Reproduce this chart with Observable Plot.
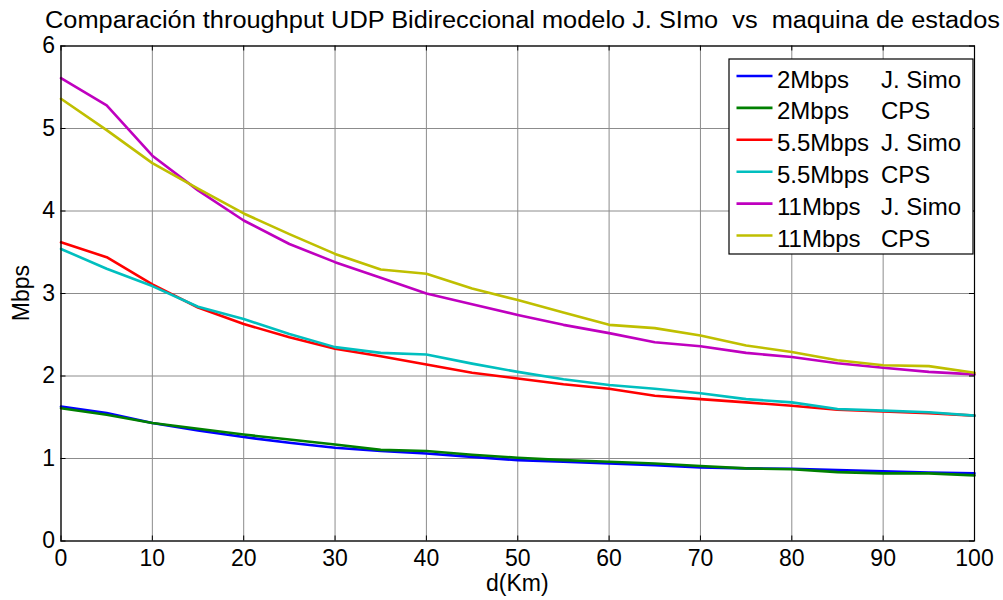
<!DOCTYPE html>
<html><head><meta charset="utf-8">
<script src="https://cdn.jsdelivr.net/npm/d3@7"></script>
<script src="https://cdn.jsdelivr.net/npm/@observablehq/plot@0.6"></script>
<style>body{margin:0;background:#fff}</style>
</head><body><div id="chart"></div>
<script>
const distances = [0,5,10,15,20,25,30,35,40,45,50,55,60,65,70,75,80,85,90,95,100];
const simo2  = [1.63,1.55,1.43,1.34,1.26,1.19,1.13,1.09,1.06,1.02,0.98,0.96,0.94,0.92,0.89,0.88,0.875,0.86,0.845,0.83,0.82];
const cps2   = [1.61,1.53,1.43,1.36,1.29,1.23,1.17,1.105,1.09,1.045,1.01,0.98,0.96,0.94,0.91,0.88,0.87,0.835,0.82,0.82,0.795];
const simo55 = [3.62,3.44,3.11,2.83,2.63,2.47,2.33,2.24,2.14,2.04,1.97,1.90,1.845,1.76,1.72,1.68,1.64,1.59,1.57,1.55,1.52];
const cps55  = [3.54,3.30,3.09,2.84,2.69,2.51,2.35,2.28,2.26,2.15,2.05,1.96,1.89,1.845,1.79,1.72,1.68,1.60,1.58,1.56,1.52];
const simo11 = [5.61,5.28,4.67,4.25,3.885,3.60,3.38,3.19,3.00,2.87,2.74,2.62,2.52,2.41,2.36,2.28,2.23,2.155,2.10,2.05,2.02];
const cps11  = [5.36,4.98,4.58,4.27,3.97,3.72,3.48,3.29,3.24,3.06,2.92,2.77,2.62,2.58,2.49,2.37,2.29,2.19,2.13,2.12,2.04];
const seriesRates = ["2Mbps","2Mbps","5.5Mbps","5.5Mbps","11Mbps","11Mbps"];
const seriesModels = ["J. Simo","CPS","J. Simo","CPS","J. Simo","CPS"];
const seriesColors = ["#0000ff","#008000","#ff0000","#00bfbf","#bf00bf","#bfbf00"];
const seriesValues = [simo2,cps2,simo55,cps55,simo11,cps11];
const xTicks = [0,10,20,30,40,50,60,70,80,90,100];
const yTicks = [0,1,2,3,4,5,6];
const titleText = "Comparación throughput UDP Bidireccional modelo J. SImo  vs  maquina de estados";
const xLabel = "d(Km)";
const yLabel = "Mbps";

const seriesNames = seriesRates.map((r,i)=>r+" "+seriesModels[i]);
const data = [];
seriesValues.forEach((vals,i)=>vals.forEach((v,j)=>data.push({s:seriesNames[i], d:distances[j], v})));

(function(){
const W=1003, H=600, ml=60.5, mr=29, mt=45.5, mb=59.5;
const innerW = W-ml-mr, innerH = H-mt-mb;
const font = "Liberation Sans, Arial, sans-serif";
const chart = Plot.plot({
  width:W, height:H, marginLeft:ml, marginRight:mr, marginTop:mt, marginBottom:mb,
  style:{fontFamily:font, fontSize:"23px", color:"#000", background:"#fff", overflow:"visible"},
  x:{domain:[0,100], label:null},
  y:{domain:[0,6], label:null},
  color:{domain:seriesNames, range:seriesColors},
  marks:[
    Plot.gridX(xTicks,{stroke:"#8c8c8c", strokeOpacity:1, strokeWidth:1}),
    Plot.gridY(yTicks,{stroke:"#8c8c8c", strokeOpacity:1, strokeWidth:1}),
    Plot.line(data,{x:"d", y:"v", z:"s", stroke:"s", strokeWidth:2.6}),
    Plot.frame({stroke:"#000", strokeWidth:1.2}),
    Plot.tickX(xTicks,{x:d=>d, insetTop:innerH-5, stroke:"#000"}),
    Plot.tickX(xTicks,{x:d=>d, insetBottom:innerH-5, stroke:"#000"}),
    Plot.tickY(yTicks,{y:d=>d, insetRight:innerW-5, stroke:"#000"}),
    Plot.tickY(yTicks,{y:d=>d, insetLeft:innerW-5, stroke:"#000"}),
    Plot.axisX(xTicks,{tickSize:0, tickPadding:9, label:null, fontSize:23, tickFormat:d=>String(d)}),
    Plot.axisY(yTicks,{tickSize:0, tickPadding:6, label:null, fontSize:23, tickFormat:d=>String(d)})
  ]
});
document.getElementById("chart").appendChild(chart);

const svg = d3.select(chart);
const sx = chart.scale("x"), sy = chart.scale("y");
const fl = sx.range[0], fr = sx.range[1], ft = sy.range[1], fb = sy.range[0];

svg.append("text").attr("x", 522.5).attr("y", ft-18).attr("text-anchor","middle")
  .attr("textLength",955).attr("lengthAdjust","spacingAndGlyphs")
  .attr("font-family",font).attr("font-size",23).attr("fill","#000").text(titleText);
svg.append("text").attr("x",(fl+fr)/2).attr("y", fb+50).attr("text-anchor","middle")
  .attr("font-family",font).attr("font-size",23).attr("fill","#000").text(xLabel);
svg.append("text").attr("transform",`translate(${fl-32},${(ft+fb)/2}) rotate(-90)`).attr("text-anchor","middle")
  .attr("font-family",font).attr("font-size",23).attr("fill","#000").text(yLabel);

const lg = svg.append("g").attr("text-anchor","start");
const bx0 = fr-245, by0 = ft+13.5, bw = 244, bh = 195;
lg.append("rect").attr("x",bx0).attr("y",by0).attr("width",bw).attr("height",bh)
  .attr("fill","#fff").attr("stroke","#000").attr("stroke-width",1.2);
seriesNames.forEach((n,i)=>{
  const cy = by0 + 17 + i*31.9;
  lg.append("line").attr("x1",bx0+7.5).attr("x2",bx0+43.5).attr("y1",cy).attr("y2",cy)
    .attr("stroke",seriesColors[i]).attr("stroke-width",2.6);
  lg.append("text").attr("x",bx0+48).attr("y",cy+11.5).attr("font-family",font).attr("font-size",24).attr("fill","#000").text(seriesRates[i]);
  lg.append("text").attr("x",bx0+152).attr("y",cy+11.5).attr("font-family",font).attr("font-size",24).attr("fill","#000").text(seriesModels[i]);
});
})();
</script>
</body></html>
